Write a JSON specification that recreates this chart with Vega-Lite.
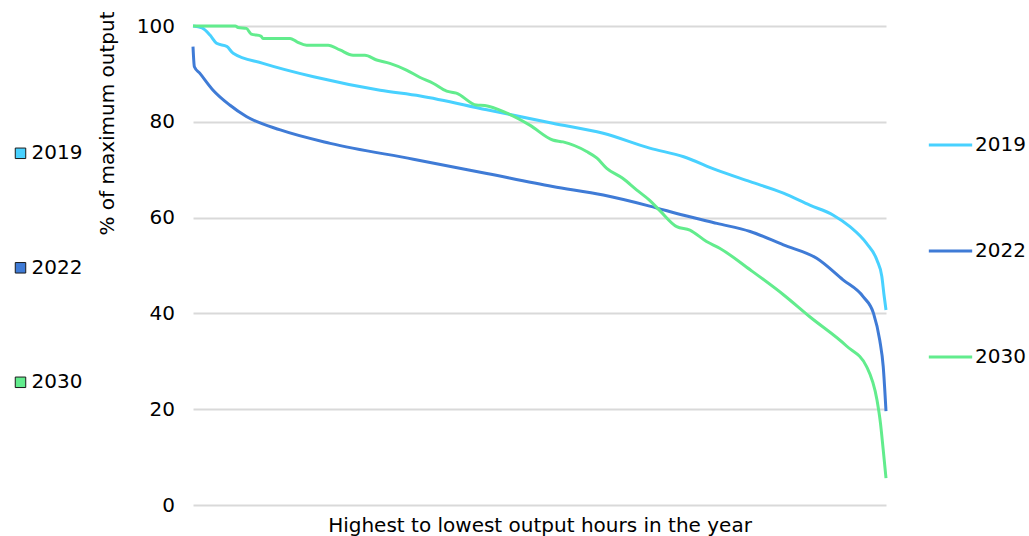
{
  "$schema": "https://vega.github.io/schema/vega-lite/v6.json",
  "width": 693,
  "height": 479,
  "autosize": {"type": "none"},
  "padding": {"left": 193, "top": 26, "right": 143, "bottom": 31},
  "background": "white",
  "config": {
    "font": "DejaVu Sans",
    "view": {"stroke": null}
  },
  "data": {
    "values": [
      {"year": "2019", "rank": 0, "output": 100},
      {"year": "2019", "rank": 1.3, "output": 99.6},
      {"year": "2019", "rank": 2.45, "output": 98.1},
      {"year": "2019", "rank": 3.4, "output": 96.4},
      {"year": "2019", "rank": 4.9, "output": 95.7},
      {"year": "2019", "rank": 5.8, "output": 94.3},
      {"year": "2019", "rank": 10.1, "output": 92.2},
      {"year": "2019", "rank": 17.4, "output": 89.4},
      {"year": "2019", "rank": 27.0, "output": 86.6},
      {"year": "2019", "rank": 32.8, "output": 85.4},
      {"year": "2019", "rank": 42.4, "output": 82.5},
      {"year": "2019", "rank": 51.9, "output": 79.7},
      {"year": "2019", "rank": 59.2, "output": 77.6},
      {"year": "2019", "rank": 65.9, "output": 74.5},
      {"year": "2019", "rank": 70.8, "output": 72.7},
      {"year": "2019", "rank": 75.6, "output": 69.9},
      {"year": "2019", "rank": 80.4, "output": 67.5},
      {"year": "2019", "rank": 85.2, "output": 65.1},
      {"year": "2019", "rank": 89.0, "output": 62.6},
      {"year": "2019", "rank": 92.4, "output": 60.5},
      {"year": "2019", "rank": 94.8, "output": 58.1},
      {"year": "2019", "rank": 97.2, "output": 54.6},
      {"year": "2019", "rank": 98.7, "output": 51.1},
      {"year": "2019", "rank": 99.4, "output": 47.7},
      {"year": "2019", "rank": 99.7, "output": 44.0},
      {"year": "2019", "rank": 100, "output": 40.7},

      {"year": "2022", "rank": 0, "output": 95.7},
      {"year": "2022", "rank": 0.2, "output": 91.5},
      {"year": "2022", "rank": 1.0, "output": 90.1},
      {"year": "2022", "rank": 2.9, "output": 86.6},
      {"year": "2022", "rank": 5.3, "output": 83.5},
      {"year": "2022", "rank": 7.7, "output": 81.1},
      {"year": "2022", "rank": 12.6, "output": 78.3},
      {"year": "2022", "rank": 19.8, "output": 75.5},
      {"year": "2022", "rank": 31.8, "output": 72.2},
      {"year": "2022", "rank": 42.4, "output": 69.2},
      {"year": "2022", "rank": 51.9, "output": 66.5},
      {"year": "2022", "rank": 59.2, "output": 64.7},
      {"year": "2022", "rank": 65.9, "output": 62.4},
      {"year": "2022", "rank": 70.8, "output": 60.5},
      {"year": "2022", "rank": 75.6, "output": 58.8},
      {"year": "2022", "rank": 80.4, "output": 57.1},
      {"year": "2022", "rank": 85.2, "output": 54.3},
      {"year": "2022", "rank": 90.0, "output": 51.5},
      {"year": "2022", "rank": 93.8, "output": 47.0},
      {"year": "2022", "rank": 96.7, "output": 43.5},
      {"year": "2022", "rank": 98.2, "output": 40.0},
      {"year": "2022", "rank": 99.1, "output": 34.4},
      {"year": "2022", "rank": 99.6, "output": 28.9},
      {"year": "2022", "rank": 100, "output": 19.6},

      {"year": "2030", "rank": 0, "output": 100},
      {"year": "2030", "rank": 6.1, "output": 100},
      {"year": "2030", "rank": 6.5, "output": 99.7},
      {"year": "2030", "rank": 7.7, "output": 99.5},
      {"year": "2030", "rank": 8.4, "output": 98.3},
      {"year": "2030", "rank": 9.8, "output": 97.9},
      {"year": "2030", "rank": 10.1, "output": 97.4},
      {"year": "2030", "rank": 14.0, "output": 97.4},
      {"year": "2030", "rank": 15.0, "output": 96.7},
      {"year": "2030", "rank": 16.4, "output": 96.0},
      {"year": "2030", "rank": 19.5, "output": 96.0},
      {"year": "2030", "rank": 21.2, "output": 95.0},
      {"year": "2030", "rank": 23.1, "output": 93.9},
      {"year": "2030", "rank": 24.8, "output": 93.9},
      {"year": "2030", "rank": 26.5, "output": 92.9},
      {"year": "2030", "rank": 28.4, "output": 92.2},
      {"year": "2030", "rank": 30.8, "output": 90.8},
      {"year": "2030", "rank": 32.7, "output": 89.3},
      {"year": "2030", "rank": 34.7, "output": 88.0},
      {"year": "2030", "rank": 36.6, "output": 86.4},
      {"year": "2030", "rank": 38.0, "output": 86.0},
      {"year": "2030", "rank": 40.9, "output": 83.5},
      {"year": "2030", "rank": 42.1, "output": 83.4},
      {"year": "2030", "rank": 45.3, "output": 81.8},
      {"year": "2030", "rank": 48.6, "output": 79.3},
      {"year": "2030", "rank": 51.9, "output": 76.2},
      {"year": "2030", "rank": 53.4, "output": 75.8},
      {"year": "2030", "rank": 56.8, "output": 73.8},
      {"year": "2030", "rank": 58.3, "output": 72.4},
      {"year": "2030", "rank": 59.7, "output": 70.3},
      {"year": "2030", "rank": 62.0, "output": 68.2},
      {"year": "2030", "rank": 64.0, "output": 65.8},
      {"year": "2030", "rank": 65.9, "output": 63.6},
      {"year": "2030", "rank": 67.4, "output": 61.4},
      {"year": "2030", "rank": 69.8, "output": 58.1},
      {"year": "2030", "rank": 71.7, "output": 57.4},
      {"year": "2030", "rank": 74.1, "output": 55.0},
      {"year": "2030", "rank": 76.0, "output": 53.6},
      {"year": "2030", "rank": 80.4, "output": 49.1},
      {"year": "2030", "rank": 85.2, "output": 43.9},
      {"year": "2030", "rank": 89.0, "output": 39.3},
      {"year": "2030", "rank": 94.3, "output": 33.2},
      {"year": "2030", "rank": 97.2, "output": 28.9},
      {"year": "2030", "rank": 98.7, "output": 21.9},
      {"year": "2030", "rank": 99.2, "output": 17.1},
      {"year": "2030", "rank": 99.6, "output": 11.5},
      {"year": "2030", "rank": 100, "output": 5.6}
    ]
  },
  "encoding": {
    "x": {
      "field": "rank",
      "type": "quantitative",
      "scale": {"domain": [0, 100], "nice": false, "zero": false},
      "axis": {
        "title": "Highest to lowest output hours in the year",
        "labels": false,
        "ticks": false,
        "domain": false,
        "grid": false,
        "titleFontSize": 20,
        "titleFontWeight": "normal",
        "titleColor": "#000000",
        "titlePadding": 10
      }
    },
    "y": {
      "field": "output",
      "type": "quantitative",
      "scale": {"domain": [0, 100], "nice": false},
      "axis": {
        "title": "% of maximum output",
        "values": [0, 20, 40, 60, 80, 100],
        "grid": true,
        "gridColor": "#d9d9d9",
        "gridWidth": 2,
        "ticks": false,
        "domain": false,
        "labelFontSize": 20,
        "labelColor": "#000000",
        "labelPadding": 18.5,
        "titleFontSize": 20,
        "titleFontWeight": "normal",
        "titleColor": "#000000",
        "titlePadding": 19,
        "titleY": 97
      }
    }
  },
  "layer": [
    {
      "mark": {"type": "line", "strokeWidth": 3, "strokeJoin": "round", "interpolate": "monotone"},
      "encoding": {
        "stroke": {
          "field": "year",
          "type": "nominal",
          "scale": {
            "domain": ["2019", "2022", "2030"],
            "range": ["#48D1FF", "#3F7BD6", "#62EC8D"]
          },
          "legend": {
            "orient": "none",
            "legendX": 734,
            "legendY": 95.5,
            "title": null,
            "symbolType": "stroke",
            "symbolSize": 1880,
            "symbolStrokeWidth": 3,
            "labelFontSize": 20,
            "labelColor": "#000000",
            "labelOffset": 1,
            "rowPadding": 72,
            "padding": 0
          }
        }
      }
    },
    {
      "mark": {
        "type": "point",
        "shape": "square",
        "filled": true,
        "size": 0,
        "opacity": 1,
        "stroke": "#1a1a1a",
        "strokeWidth": 1
      },
      "encoding": {
        "fill": {
          "field": "year",
          "type": "nominal",
          "scale": {
            "range": ["#48D1FF", "#3F7BD6", "#62EC8D"]
          },
          "legend": {
            "orient": "none",
            "legendX": -182.5,
            "legendY": 117.3,
            "title": null,
            "symbolType": "square",
            "symbolSize": 110,
            "symbolStrokeColor": "#1a1a1a",
            "symbolStrokeWidth": 1,
            "symbolOpacity": 1,
            "labelFontSize": 20,
            "labelColor": "#000000",
            "labelOffset": 1,
            "rowPadding": 94.5,
            "padding": 0
          }
        }
      }
    }
  ]
}
